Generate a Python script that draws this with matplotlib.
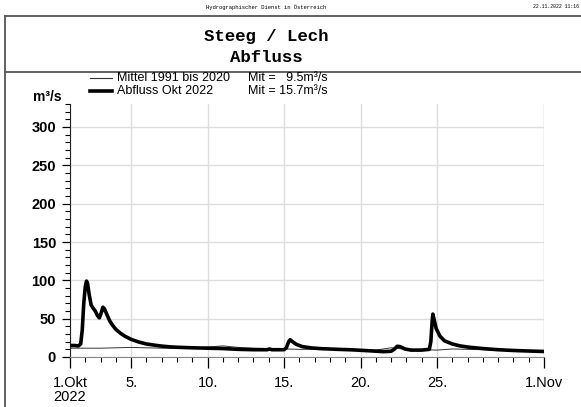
import numpy as np
import matplotlib
matplotlib.use("Agg")
import matplotlib.pyplot as plt
from matplotlib.lines import Line2D
from matplotlib.ticker import FixedLocator, MultipleLocator

plt.rcParams['font.family'] = ['Liberation Sans', 'DejaVu Sans']

# Abfluss Okt 2022 (day of month as float, 1.0 = 1. Okt 0:00)
flow_t = [1.0, 1.3, 1.55, 1.7, 1.8, 1.9, 2.0, 2.08, 2.15, 2.25, 2.38, 2.5, 2.65,
          2.8, 2.92, 3.05, 3.15, 3.25, 3.4, 3.6, 3.8, 4.0, 4.3, 4.6, 5.0, 5.5,
          6.0, 6.5, 7.0, 7.5, 8.0, 9.0, 10.0, 11.0, 12.0, 13.0, 13.9, 14.05,
          14.2, 15.0, 15.15, 15.3, 15.4, 15.55, 15.8, 16.2, 16.8, 17.5, 18.5,
          19.5, 20.5, 21.5, 22.0, 22.2, 22.4, 22.6, 22.9, 23.3, 24.0, 24.5,
          24.6, 24.68, 24.73, 24.8, 24.95, 25.2, 25.5, 26.0, 26.5, 27.0, 28.0,
          29.0, 30.0, 31.0, 32.0]
flow_q = [15, 15, 14.5, 17, 35, 70, 92, 99, 96, 82, 68, 64, 60,
          54, 51, 58, 65, 63, 56, 47, 41, 36, 31, 27, 23, 19.5,
          17, 15.5, 14.2, 13.3, 12.7, 12, 11.5, 11, 10, 9.5, 9.5, 10.5,
          9.5, 9.5, 12, 20, 22.5, 20, 16.5, 13.5, 11.8, 10.8, 10,
          9.3, 8.2, 7, 7.5, 10, 14, 13.5, 10.5, 9, 9, 10,
          20, 45, 56, 50, 37, 27, 21, 17, 14.5, 13, 11,
          9.5, 8.5, 7.8, 7.2]

# Mittel 1991 bis 2020 (daily)
mean_t = list(range(1, 33))
mean_q = [11.5, 11.5, 11.5, 12, 12.5, 12, 11.5, 11.5, 11.5, 13, 14.5, 12.5,
          11.5, 11, 10.5, 10, 10, 10, 9.5, 9.5, 9, 12, 10, 9.5, 9, 10.5,
          10, 9.5, 9, 8.5, 8.5, 8.5]

major_days = [1, 5, 10, 15, 20, 25, 32]
major_labels = ['1.Okt\n2022', '5.', '10.', '15.', '20.', '25.', '1.Nov']

W, H = 581, 407
fig = plt.figure(figsize=(W / 100, H / 100), dpi=100)
ax = fig.add_axes([70 / W, 50 / H, 474 / W, 253 / H])

ax.plot(mean_t, mean_q, color='#333333', lw=0.7, zorder=3)
ax.plot(flow_t, flow_q, color='black', lw=2.6, zorder=4)

ax.set_xlim(1, 32)
ax.set_ylim(0, 330)
ax.xaxis.set_major_locator(FixedLocator(major_days))
ax.set_xticklabels(major_labels, fontsize=10.5, linespacing=1.0)
ax.xaxis.set_minor_locator(MultipleLocator(1))
ax.yaxis.set_major_locator(FixedLocator([0, 50, 100, 150, 200, 250, 300]))
ax.yaxis.set_minor_locator(MultipleLocator(10))
ax.tick_params(axis='x', which='major', length=8, width=0.9, pad=6, direction='out')
ax.tick_params(axis='x', which='minor', length=3.6, width=0.8, direction='out')
ax.tick_params(axis='y', which='major', length=6, width=0.9, labelsize=10.5, pad=4, direction='out')
ax.tick_params(axis='y', which='minor', length=3.5, width=0.8, direction='out')
for lab in ax.get_yticklabels():
    lab.set_fontweight('bold')

ax.grid(True, which='major', color='#dddddd', lw=1)
ax.spines['top'].set_visible(False)
ax.spines['right'].set_visible(False)
ax.spines['bottom'].set_color('#888888')
ax.spines['left'].set_color('#222222')
ax.axvline(32, color='#dddddd', lw=1, zorder=0)

# frame lines
def px(x, y):
    return x / W, 1 - y / H

for (x0, y0, x1, y1) in [(5, 16, W, 16), (5, 72, W, 72), (5, 16, 5, H)]:
    a, b = px(x0, y0)
    c, d = px(x1, y1)
    fig.add_artist(Line2D([a, c], [b, d], color='#555555', lw=1.3))

fig.text(*px(266, 7), 'Hydrographischer Dienst in Österreich', family='Liberation Mono',
         fontsize=4, ha='center', va='center')
fig.text(*px(579, 7), '22.11.2022 11:16', family='Liberation Mono',
         fontsize=3.5, ha='right', va='center')
fig.text(*px(266, 36), 'Steeg / Lech', family='Liberation Mono', fontweight='bold',
         fontsize=12.5, ha='center', va='center')
fig.text(*px(266, 58), 'Abfluss', family='Liberation Mono', fontweight='bold',
         fontsize=12.5, ha='center', va='center')

# legend
for (y, lw, col) in [(78, 0.8, '#333333'), (91, 2.6, 'black')]:
    a, b = px(90, y)
    c, _ = px(112, y)
    fig.add_artist(Line2D([a, c], [b, b], color=col, lw=lw))
fig.text(*px(117, 78), 'Mittel 1991 bis 2020', fontsize=9, ha='left', va='center')
fig.text(*px(248, 78), 'Mit =   9.5m³/s', fontsize=9, ha='left', va='center')
fig.text(*px(117, 91), 'Abfluss Okt 2022', fontsize=9, ha='left', va='center')
fig.text(*px(248, 91), 'Mit = 15.7m³/s', fontsize=9, ha='left', va='center')
fig.text(*px(33, 97), 'm³/s', fontsize=10, ha='left', va='center', fontweight='bold')

fig.savefig('out.png', dpi=100)
